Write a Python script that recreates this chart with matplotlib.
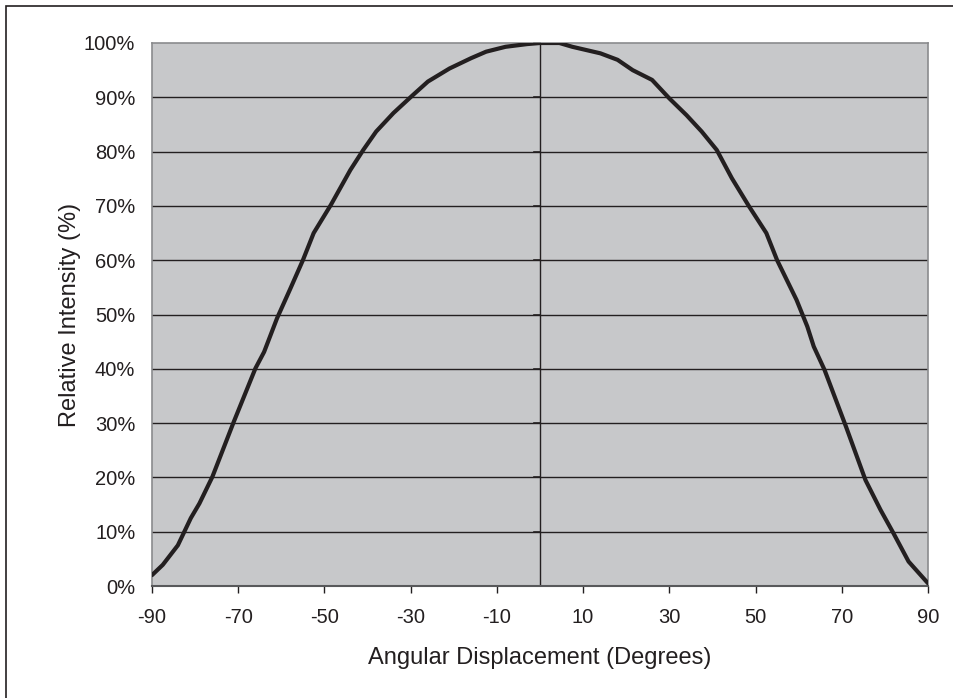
import matplotlib
matplotlib.use("Agg")
import matplotlib.pyplot as plt
from matplotlib.patches import Rectangle
from matplotlib.ticker import FixedLocator

plt.rcParams['font.family'] = ['Liberation Sans', 'DejaVu Sans']

angles = [-90, -87.5, -84, -81, -79, -76, -71, -66, -64, -61, -58, -55, -52.5,
          -48.5, -44, -41, -38, -34, -29.5, -26, -21, -16, -12.5, -8, -3, 0,
          4.5, 7.5, 14, 18, 21.5, 26, 30, 34, 37.5, 41, 44.5, 48.5, 52.5, 55,
          59.5, 62, 63.5, 66, 71, 75.5, 79, 82, 85.5, 90]
intensity = [2.0, 3.9, 7.5, 12.5, 15.2, 20.1, 30.3, 40.1, 43.1, 49.3, 54.6, 60.0, 65.0,
             70.2, 76.6, 80.3, 83.7, 87.1, 90.4, 92.9, 95.3, 97.2, 98.4, 99.3, 99.8, 100.0,
             100.0, 99.3, 98.1, 96.9, 95.0, 93.2, 89.8, 86.7, 83.7, 80.3, 75.1, 69.9, 65.0, 60.0,
             52.7, 47.8, 44.1, 39.8, 29.3, 19.5, 14.0, 9.7, 4.5, 0.5]
x_ticks = [-90, -70, -50, -30, -10, 10, 30, 50, 70, 90]
y_ticks = [0, 10, 20, 30, 40, 50, 60, 70, 80, 90, 100]
y_tick_labels = [f"{v}%" for v in y_ticks]

txt = '#231f20'
fig = plt.figure(figsize=(9.54, 6.98), dpi=100)
fig.patches.append(Rectangle((6/954, -0.05), 1.2, 1 - 6/698 + 0.05, transform=fig.transFigure,
                             fill=False, edgecolor='#231f20', linewidth=1.2))
ax = fig.add_axes([152/954, 1 - 586/698, 776/954, 543/698])
ax.set_facecolor('#c7c8ca')
ax.set_xlim(-90, 90)
ax.set_ylim(0, 100)

for v in y_ticks[1:-1]:
    ax.axhline(v, color='#231f20', linewidth=1.0, zorder=1)
ax.axvline(0, color='#231f20', linewidth=1.0, zorder=1)
# small tick marks on the central vertical axis
for v in y_ticks:
    ax.plot([-1.3, 0], [v, v], color='#231f20', linewidth=1.2, zorder=1, clip_on=False)

ax.plot(angles, intensity, color='#231f20', linewidth=3.0, zorder=3,
        solid_joinstyle='round', solid_capstyle='round')

for s in ['left', 'right', 'top']:
    ax.spines[s].set_color('#8a8b8d')
    ax.spines[s].set_linewidth(1.2)
ax.spines['bottom'].set_color('#58595b')
ax.spines['bottom'].set_linewidth(1.5)

ax.xaxis.set_major_locator(FixedLocator(x_ticks))
ax.set_xticklabels([str(v) for v in x_ticks])
ax.yaxis.set_major_locator(FixedLocator(y_ticks))
ax.set_yticklabels(y_tick_labels)
ax.tick_params(axis='x', direction='out', length=5, width=1, color='#231f20',
               labelsize=14.5, labelcolor=txt, pad=11)
ax.tick_params(axis='y', length=0, labelsize=14.5, labelcolor=txt, pad=12)

ax.set_xlabel('Angular Displacement (Degrees)', fontsize=17, color=txt, labelpad=14)
ax.set_ylabel('Relative Intensity (%)', fontsize=17, color=txt, labelpad=2)

fig.savefig('out.png', dpi=100)
